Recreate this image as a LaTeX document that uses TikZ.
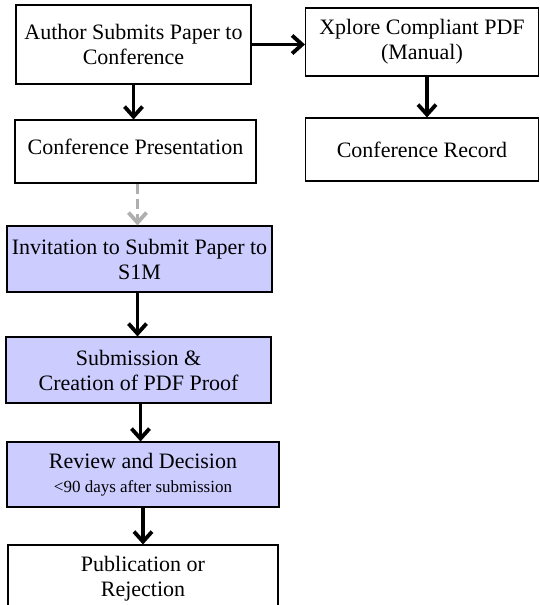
\documentclass[tikz,border=0pt]{standalone}
\usepackage{fontspec}
\setmainfont{Liberation Serif}
\usetikzlibrary{positioning, arrows.meta}
\definecolor{lav}{RGB}{204,204,255}
\definecolor{dashgray}{RGB}{175,175,175}

\begin{document}
\begin{tikzpicture}[
         x=1pt, y=-1pt,
         >={Straight Barb[length=10pt, width=18pt]},
         box/.style={draw, line width=1.1pt, align=center, inner sep=2pt,
            font=\fontsize{22}{25}\selectfont},
         task/.style={box, fill=lav},
         flow/.style={->, line width=3.8pt},
         skip/.style={flow, dashgray, dash pattern=on 10pt off 5pt}
      ]
         \useasboundingbox (0,0) rectangle (539,605);

         % Nodes for the conference track
         \node[box, minimum width=235pt, minimum height=79pt] (author) at (133.5,44.5)
            {Author Submits Paper to\\Conference};
         \node[box, minimum width=241pt, minimum height=63pt, text depth=10pt] (present) at (135.5,151.5)
            {Conference Presentation};
         \node[box, minimum width=233pt, minimum height=68pt] (xplore) at (422,42)
            {Xplore Compliant PDF\\(Manual)};
         \node[box, minimum width=233pt, minimum height=63pt] (record) at (422,149.5)
            {Conference Record};

         % Nodes for the journal track
         \node[task, minimum width=265pt, minimum height=66pt] (invite) at (139.5,259)
            {Invitation to Submit Paper to\\S1M};
         \node[task, minimum width=265pt, minimum height=66pt] (submit) at (138.5,370)
            {Submission \&\\Creation of PDF Proof};
         \node[task, minimum width=272pt, minimum height=65pt] (review) at (143,474.5)
            {Review and Decision\\[-1pt]{\fontsize{17}{19}\selectfont <90 days after submission}};
         \node[box, minimum width=270pt, minimum height=68pt] (publish) at (143,579)
            {Publication or\\Rejection};

         % Arrows
         \draw[flow] (author.south) -- (author.south |- present.north);
         \draw[flow] (author.east) -- (author.east -| xplore.west);
         \draw[flow] ([xshift=5pt]xplore.south) -- ([xshift=5pt]xplore.south |- record.north);
         \draw[skip] ([xshift=2pt]present.south) -- ([xshift=2pt]present.south |- invite.north);
         \draw[flow] ([xshift=-2pt]invite.south) -- ([xshift=-2pt]invite.south |- submit.north);
         \draw[flow] ([xshift=2pt]submit.south) -- ([xshift=2pt]submit.south |- review.north);
         \draw[flow] (review.south) -- (review.south |- publish.north);
      \end{tikzpicture}
\end{document}
